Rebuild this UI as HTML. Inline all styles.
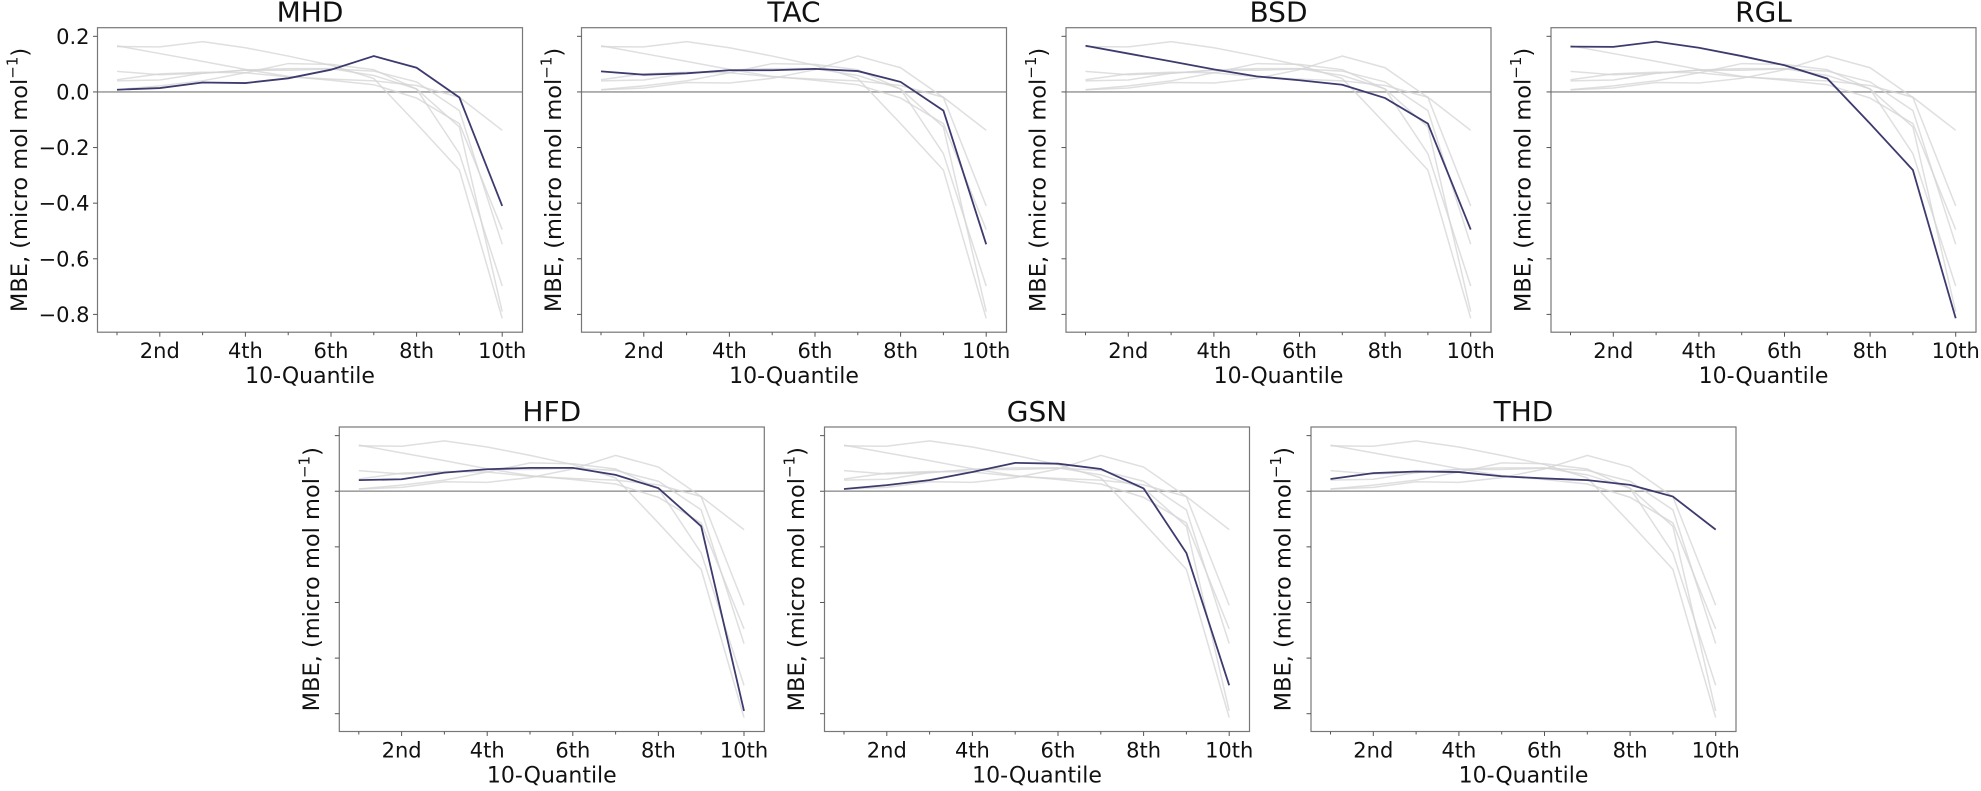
<!DOCTYPE html>
<html><head><meta charset="utf-8">
<style>
html,body{margin:0;padding:0;background:#fff;}
svg text{font-family:"DejaVu Sans","Liberation Sans",sans-serif;fill:#111;}
</style></head>
<body>
<svg id="fig" width="1981" height="786" viewBox="0 0 1981 786" xmlns="http://www.w3.org/2000/svg"></svg>
<script>
const models = ["MHD","TAC","BSD","RGL","HFD","GSN","THD"];
const quantiles = [1,2,3,4,5,6,7,8,9,10];
const xTickLabels = ["2nd","4th","6th","8th","10th"];
const xTickValues = [2,4,6,8,10];
const yTickValues = [0.2,0.0,-0.2,-0.4,-0.6,-0.8];
const yTickLabels = ["0.2","0.0","\u22120.2","\u22120.4","\u22120.6","\u22120.8"];
const mhd = [0.008,0.014,0.034,0.032,0.049,0.08,0.129,0.087,-0.02,-0.41];
const tac = [0.074,0.062,0.067,0.078,0.078,0.083,0.075,0.036,-0.067,-0.548];
const bsd = [0.166,0.138,0.11,0.081,0.056,0.042,0.026,-0.022,-0.114,-0.495];
const rgl = [0.163,0.162,0.181,0.159,0.129,0.096,0.048,-0.114,-0.281,-0.814];
const hfd = [0.04,0.043,0.067,0.079,0.084,0.084,0.059,0.011,-0.126,-0.79];
const gsn = [0.008,0.022,0.04,0.069,0.102,0.099,0.08,0.01,-0.222,-0.698];
const thd = [0.044,0.065,0.071,0.069,0.054,0.046,0.04,0.023,-0.019,-0.138];
const series = [mhd,tac,bsd,rgl,hfd,gsn,thd];
const yMin = -0.864, yMax = 0.231;

const NS = "http://www.w3.org/2000/svg";
const svg = document.getElementById("fig");
function mk(tag, attrs, parent){
  const e = document.createElementNS(NS, tag);
  for (const k in attrs) e.setAttribute(k, attrs[k]);
  parent.appendChild(e);
  return e;
}
const W = 425, H = 304.5;
const panels = [
  {x:97.5,y:27.7},{x:581.5,y:27.7},{x:1066,y:27.7},{x:1551,y:27.7},
  {x:339.3,y:427},{x:824.5,y:427},{x:1311,y:427}
];
panels.forEach((p, i) => {
  const g = mk("g", {}, svg);
  
  
  const xs = q => p.x + 19.5 + (q - 1) * 42.8;
  const ys = v => p.y + (yMax - v) / (yMax - yMin) * H;
  const t = mk("text", {x:p.x + W/2, y:p.y - 6, "text-anchor":"middle", "font-size":"28"}, g);
  t.textContent = models[i];
  
  
  const z = mk("line", {x1:p.x, x2:p.x+W, y1:ys(0), y2:ys(0), stroke:"#a0a0a0", "stroke-width":"1.6"}, g);
  
  
  series.forEach((s, j) => {
    if (j === i) return;
    const pl = mk("polyline", {points: s.map((v,k)=>xs(quantiles[k])+","+ys(v)).join(" "), fill:"none", stroke:"#d4d4d4", "stroke-opacity":"0.75", "stroke-width":"1.5"}, g);
    
    
  });
  const hl = mk("polyline", {points: series[i].map((v,k)=>xs(quantiles[k])+","+ys(v)).join(" "), fill:"none", stroke:"#3d3b6e", "stroke-width":"1.8"}, g);
  
  
  const fr = mk("rect", {x:p.x, y:p.y, width:W, height:H, fill:"none", stroke:"#777", "stroke-width":"1.2"}, g);
  
  
  quantiles.forEach(q => {
    const major = q % 2 === 0;
    mk("line", {x1:xs(q), x2:xs(q), y1:p.y+H, y2:p.y+H+(major?4.5:3), stroke:"#555", "stroke-width":"1"}, g);
  });
  xTickValues.forEach((q, k) => {
    const tl = mk("text", {x:xs(q), y:p.y+H+26, "text-anchor":"middle", "font-size":"21"}, g);
    tl.textContent = xTickLabels[k];
    
    
  });
  const xl = mk("text", {x:p.x + W/2, y:p.y+H+51, "text-anchor":"middle", "font-size":"22"}, g);
  xl.textContent = "10-Quantile";
  
  
  yTickValues.forEach((v, k) => {
    mk("line", {x1:p.x-4.5, x2:p.x, y1:ys(v), y2:ys(v), stroke:"#555", "stroke-width":"1"}, g);
    if (i === 0) {
      const yl = mk("text", {x:p.x-8, y:ys(v)+7.5, "text-anchor":"end", "font-size":"21"}, g);
      yl.textContent = yTickLabels[k];
      
      
    }
  });
  const lx = i === 0 ? p.x - 77 : p.x - 27;
  const cy = p.y + H/2;
  const ya = mk("text", {x:lx, y:cy, "text-anchor":"middle", "font-size":"22.5", transform:"rotate(-90 "+lx+" "+cy+")", "dominant-baseline":"middle"}, g);
  ya.innerHTML = 'MBE, (micro mol mol<tspan dy="-8" font-size="15">\u22121</tspan><tspan dy="8">)</tspan>';
  
  
});
</script>
</body></html>
